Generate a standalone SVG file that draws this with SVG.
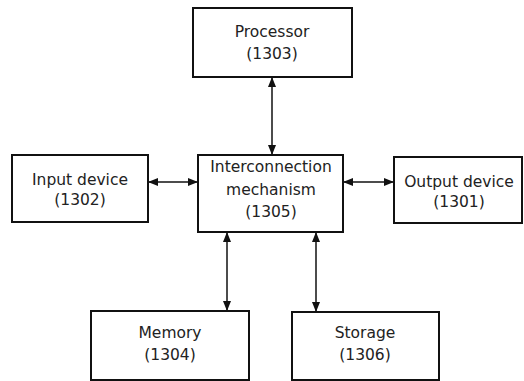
<svg xmlns="http://www.w3.org/2000/svg" width="524" height="381" viewBox="0 0 524 381">
<style>
.box{fill:#fff;stroke:#111;stroke-width:2}
.t{font-family:"DejaVu Sans",sans-serif;font-size:15.5px;fill:#222;text-anchor:middle}
.c{stroke:#111;stroke-width:1.5;fill:none}
</style>
<defs>
<marker id="ah" viewBox="0 0 10 10" refX="9" refY="5" markerWidth="10" markerHeight="10" markerUnits="userSpaceOnUse" orient="auto-start-reverse">
<path d="M0,1 L10,5 L0,9 Z" fill="#111"/>
</marker>
</defs>
<rect width="524" height="381" fill="#fff"/>
<g id="connectors">
<line class="c" x1="272" y1="78" x2="272" y2="154" marker-start="url(#ah)" marker-end="url(#ah)"/>
<line class="c" x1="149" y1="182" x2="197" y2="182" marker-start="url(#ah)" marker-end="url(#ah)"/>
<line class="c" x1="344" y1="182" x2="393" y2="182" marker-start="url(#ah)" marker-end="url(#ah)"/>
<line class="c" x1="227" y1="233" x2="227" y2="310" marker-start="url(#ah)" marker-end="url(#ah)"/>
<line class="c" x1="316" y1="233" x2="316" y2="311" marker-start="url(#ah)" marker-end="url(#ah)"/>
</g>
<g id="processor">
<rect class="box" x="193" y="8" width="159" height="69"/>
<text class="t" x="272" y="37">Processor</text>
<text class="t" x="272" y="59">(1303)</text>
</g>
<g id="input">
<rect class="box" x="12" y="155" width="136" height="67"/>
<text class="t" x="80" y="185">Input device</text>
<text class="t" x="80" y="205">(1302)</text>
</g>
<g id="interconnection">
<rect class="box" x="198" y="155" width="145" height="77"/>
<text class="t" x="271" y="172">Interconnection</text>
<text class="t" x="271" y="195">mechanism</text>
<text class="t" x="271" y="217">(1305)</text>
</g>
<g id="output">
<rect class="box" x="394" y="157" width="128" height="66"/>
<text class="t" x="459" y="187">Output device</text>
<text class="t" x="459" y="207">(1301)</text>
</g>
<g id="memory">
<rect class="box" x="91" y="311" width="158" height="69"/>
<text class="t" x="170" y="338">Memory</text>
<text class="t" x="170" y="360">(1304)</text>
</g>
<g id="storage">
<rect class="box" x="292" y="312" width="147" height="68"/>
<text class="t" x="365" y="338">Storage</text>
<text class="t" x="365" y="360">(1306)</text>
</g>
</svg>
